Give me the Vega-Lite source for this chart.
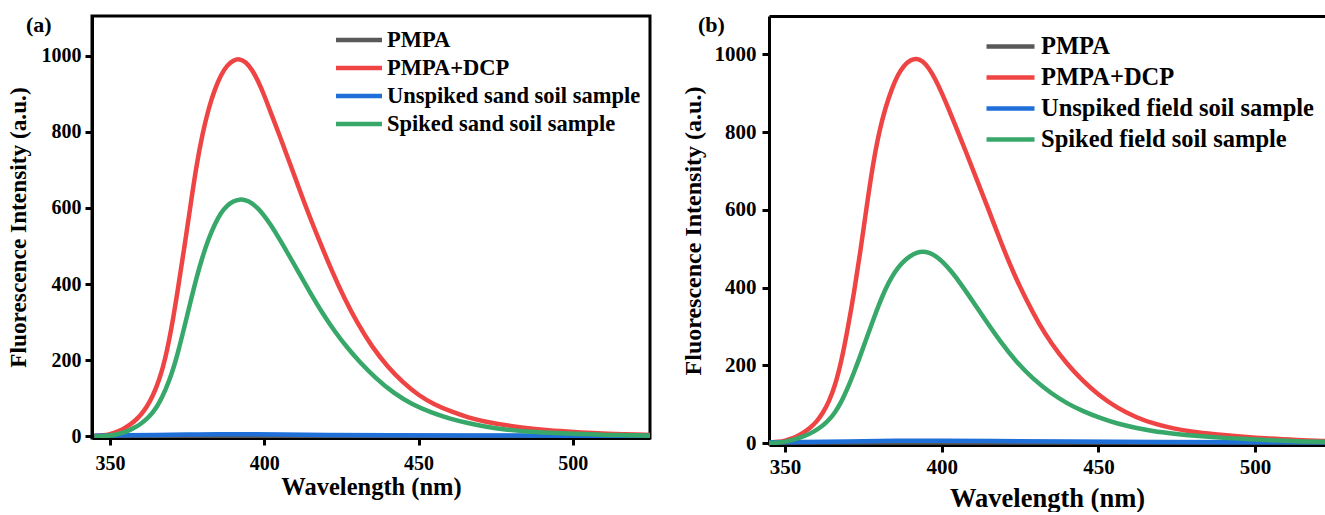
{
  "$schema": "https://vega.github.io/schema/vega-lite/v6.json",
  "padding": {"left": 4, "top": 12, "right": 0, "bottom": 0},
  "spacing": 29,
  "config": {
    "font": "Liberation Serif",
    "view": {"stroke": null},
    "axis": {"grid": false, "domainColor": "black", "domainWidth": 3, "tickColor": "black", "tickWidth": 3, "tickSize": 7, "labelColor": "black", "titleColor": "black", "labelFont": "Liberation Serif", "titleFont": "Liberation Serif", "labelFontWeight": "bold", "titleFontWeight": "bold", "format": "d"},
    "legend": {"symbolType": "M-2,0H2", "labelFont": "Liberation Serif", "labelFontWeight": "bold", "labelColor": "black", "labelLimit": 0, "padding": 0, "title": null}
  },
  "datasets": {
    "sand": [
      {"s": "PMPA", "wl": 345, "v": 1}, {"s": "PMPA", "wl": 380, "v": 2}, {"s": "PMPA", "wl": 400, "v": 2}, {"s": "PMPA", "wl": 450, "v": 1}, {"s": "PMPA", "wl": 525, "v": 1},
      {"s": "PMPA+DCP", "wl": 345, "v": 1}, {"s": "PMPA+DCP", "wl": 348, "v": 3}, {"s": "PMPA+DCP", "wl": 350, "v": 6}, {"s": "PMPA+DCP", "wl": 352, "v": 11}, {"s": "PMPA+DCP", "wl": 354, "v": 18}, {"s": "PMPA+DCP", "wl": 356, "v": 28}, {"s": "PMPA+DCP", "wl": 358, "v": 40}, {"s": "PMPA+DCP", "wl": 360, "v": 56}, {"s": "PMPA+DCP", "wl": 362, "v": 78}, {"s": "PMPA+DCP", "wl": 364, "v": 108}, {"s": "PMPA+DCP", "wl": 366, "v": 148}, {"s": "PMPA+DCP", "wl": 368, "v": 205}, {"s": "PMPA+DCP", "wl": 370, "v": 285}, {"s": "PMPA+DCP", "wl": 372, "v": 385}, {"s": "PMPA+DCP", "wl": 374, "v": 490}, {"s": "PMPA+DCP", "wl": 376, "v": 600}, {"s": "PMPA+DCP", "wl": 378, "v": 710}, {"s": "PMPA+DCP", "wl": 380, "v": 795}, {"s": "PMPA+DCP", "wl": 382, "v": 862}, {"s": "PMPA+DCP", "wl": 384, "v": 912}, {"s": "PMPA+DCP", "wl": 386, "v": 950}, {"s": "PMPA+DCP", "wl": 388, "v": 975}, {"s": "PMPA+DCP", "wl": 390, "v": 988}, {"s": "PMPA+DCP", "wl": 392, "v": 992}, {"s": "PMPA+DCP", "wl": 394, "v": 984}, {"s": "PMPA+DCP", "wl": 396, "v": 964}, {"s": "PMPA+DCP", "wl": 398, "v": 934}, {"s": "PMPA+DCP", "wl": 400, "v": 896}, {"s": "PMPA+DCP", "wl": 402, "v": 853}, {"s": "PMPA+DCP", "wl": 405, "v": 790}, {"s": "PMPA+DCP", "wl": 408, "v": 724}, {"s": "PMPA+DCP", "wl": 411, "v": 658}, {"s": "PMPA+DCP", "wl": 414, "v": 592}, {"s": "PMPA+DCP", "wl": 418, "v": 511}, {"s": "PMPA+DCP", "wl": 422, "v": 433}, {"s": "PMPA+DCP", "wl": 426, "v": 362}, {"s": "PMPA+DCP", "wl": 430, "v": 300}, {"s": "PMPA+DCP", "wl": 435, "v": 234}, {"s": "PMPA+DCP", "wl": 440, "v": 183}, {"s": "PMPA+DCP", "wl": 445, "v": 141}, {"s": "PMPA+DCP", "wl": 450, "v": 108}, {"s": "PMPA+DCP", "wl": 455, "v": 84}, {"s": "PMPA+DCP", "wl": 461, "v": 64}, {"s": "PMPA+DCP", "wl": 466, "v": 50}, {"s": "PMPA+DCP", "wl": 472, "v": 38}, {"s": "PMPA+DCP", "wl": 480, "v": 27}, {"s": "PMPA+DCP", "wl": 487, "v": 20}, {"s": "PMPA+DCP", "wl": 494, "v": 15}, {"s": "PMPA+DCP", "wl": 500, "v": 12}, {"s": "PMPA+DCP", "wl": 508, "v": 8}, {"s": "PMPA+DCP", "wl": 516, "v": 6}, {"s": "PMPA+DCP", "wl": 525, "v": 4},
      {"s": "Unspiked sand soil sample", "wl": 345, "v": 2}, {"s": "Unspiked sand soil sample", "wl": 355, "v": 3}, {"s": "Unspiked sand soil sample", "wl": 365, "v": 4}, {"s": "Unspiked sand soil sample", "wl": 375, "v": 5}, {"s": "Unspiked sand soil sample", "wl": 385, "v": 6}, {"s": "Unspiked sand soil sample", "wl": 395, "v": 6}, {"s": "Unspiked sand soil sample", "wl": 405, "v": 5}, {"s": "Unspiked sand soil sample", "wl": 420, "v": 4}, {"s": "Unspiked sand soil sample", "wl": 440, "v": 3}, {"s": "Unspiked sand soil sample", "wl": 470, "v": 3}, {"s": "Unspiked sand soil sample", "wl": 500, "v": 2}, {"s": "Unspiked sand soil sample", "wl": 525, "v": 2},
      {"s": "Spiked sand soil sample", "wl": 345, "v": 0}, {"s": "Spiked sand soil sample", "wl": 348, "v": 1}, {"s": "Spiked sand soil sample", "wl": 350, "v": 2}, {"s": "Spiked sand soil sample", "wl": 352, "v": 5}, {"s": "Spiked sand soil sample", "wl": 354, "v": 9}, {"s": "Spiked sand soil sample", "wl": 356, "v": 15}, {"s": "Spiked sand soil sample", "wl": 358, "v": 23}, {"s": "Spiked sand soil sample", "wl": 360, "v": 33}, {"s": "Spiked sand soil sample", "wl": 362, "v": 46}, {"s": "Spiked sand soil sample", "wl": 364, "v": 63}, {"s": "Spiked sand soil sample", "wl": 366, "v": 88}, {"s": "Spiked sand soil sample", "wl": 368, "v": 122}, {"s": "Spiked sand soil sample", "wl": 370, "v": 163}, {"s": "Spiked sand soil sample", "wl": 372, "v": 218}, {"s": "Spiked sand soil sample", "wl": 374, "v": 283}, {"s": "Spiked sand soil sample", "wl": 376, "v": 350}, {"s": "Spiked sand soil sample", "wl": 378, "v": 415}, {"s": "Spiked sand soil sample", "wl": 380, "v": 472}, {"s": "Spiked sand soil sample", "wl": 382, "v": 520}, {"s": "Spiked sand soil sample", "wl": 384, "v": 558}, {"s": "Spiked sand soil sample", "wl": 386, "v": 588}, {"s": "Spiked sand soil sample", "wl": 388, "v": 607}, {"s": "Spiked sand soil sample", "wl": 390, "v": 618}, {"s": "Spiked sand soil sample", "wl": 392, "v": 623}, {"s": "Spiked sand soil sample", "wl": 394, "v": 621}, {"s": "Spiked sand soil sample", "wl": 396, "v": 613}, {"s": "Spiked sand soil sample", "wl": 398, "v": 599}, {"s": "Spiked sand soil sample", "wl": 400, "v": 580}, {"s": "Spiked sand soil sample", "wl": 402, "v": 557}, {"s": "Spiked sand soil sample", "wl": 405, "v": 518}, {"s": "Spiked sand soil sample", "wl": 408, "v": 476}, {"s": "Spiked sand soil sample", "wl": 411, "v": 433}, {"s": "Spiked sand soil sample", "wl": 415, "v": 376}, {"s": "Spiked sand soil sample", "wl": 419, "v": 322}, {"s": "Spiked sand soil sample", "wl": 423, "v": 274}, {"s": "Spiked sand soil sample", "wl": 427, "v": 232}, {"s": "Spiked sand soil sample", "wl": 431, "v": 195}, {"s": "Spiked sand soil sample", "wl": 436, "v": 154}, {"s": "Spiked sand soil sample", "wl": 442, "v": 113}, {"s": "Spiked sand soil sample", "wl": 448, "v": 84}, {"s": "Spiked sand soil sample", "wl": 454, "v": 63}, {"s": "Spiked sand soil sample", "wl": 460, "v": 47}, {"s": "Spiked sand soil sample", "wl": 466, "v": 35}, {"s": "Spiked sand soil sample", "wl": 472, "v": 25}, {"s": "Spiked sand soil sample", "wl": 478, "v": 18}, {"s": "Spiked sand soil sample", "wl": 485, "v": 13}, {"s": "Spiked sand soil sample", "wl": 492, "v": 10}, {"s": "Spiked sand soil sample", "wl": 500, "v": 7}, {"s": "Spiked sand soil sample", "wl": 510, "v": 4}, {"s": "Spiked sand soil sample", "wl": 525, "v": 2}
    ],
    "field": [
      {"s": "PMPA", "wl": 345, "v": 1}, {"s": "PMPA", "wl": 400, "v": 2}, {"s": "PMPA", "wl": 523, "v": 1},
      {"s": "PMPA+DCP", "wl": 345, "v": 1}, {"s": "PMPA+DCP", "wl": 348, "v": 3}, {"s": "PMPA+DCP", "wl": 350, "v": 6}, {"s": "PMPA+DCP", "wl": 352, "v": 11}, {"s": "PMPA+DCP", "wl": 354, "v": 18}, {"s": "PMPA+DCP", "wl": 356, "v": 27}, {"s": "PMPA+DCP", "wl": 358, "v": 39}, {"s": "PMPA+DCP", "wl": 360, "v": 54}, {"s": "PMPA+DCP", "wl": 362, "v": 76}, {"s": "PMPA+DCP", "wl": 364, "v": 106}, {"s": "PMPA+DCP", "wl": 366, "v": 148}, {"s": "PMPA+DCP", "wl": 368, "v": 210}, {"s": "PMPA+DCP", "wl": 370, "v": 293}, {"s": "PMPA+DCP", "wl": 372, "v": 385}, {"s": "PMPA+DCP", "wl": 374, "v": 490}, {"s": "PMPA+DCP", "wl": 376, "v": 605}, {"s": "PMPA+DCP", "wl": 378, "v": 715}, {"s": "PMPA+DCP", "wl": 380, "v": 800}, {"s": "PMPA+DCP", "wl": 382, "v": 862}, {"s": "PMPA+DCP", "wl": 384, "v": 910}, {"s": "PMPA+DCP", "wl": 386, "v": 948}, {"s": "PMPA+DCP", "wl": 388, "v": 972}, {"s": "PMPA+DCP", "wl": 390, "v": 986}, {"s": "PMPA+DCP", "wl": 392, "v": 990}, {"s": "PMPA+DCP", "wl": 394, "v": 983}, {"s": "PMPA+DCP", "wl": 396, "v": 964}, {"s": "PMPA+DCP", "wl": 398, "v": 936}, {"s": "PMPA+DCP", "wl": 400, "v": 902}, {"s": "PMPA+DCP", "wl": 402, "v": 864}, {"s": "PMPA+DCP", "wl": 405, "v": 805}, {"s": "PMPA+DCP", "wl": 408, "v": 744}, {"s": "PMPA+DCP", "wl": 411, "v": 682}, {"s": "PMPA+DCP", "wl": 415, "v": 600}, {"s": "PMPA+DCP", "wl": 419, "v": 514}, {"s": "PMPA+DCP", "wl": 423, "v": 436}, {"s": "PMPA+DCP", "wl": 427, "v": 368}, {"s": "PMPA+DCP", "wl": 431, "v": 307}, {"s": "PMPA+DCP", "wl": 435, "v": 256}, {"s": "PMPA+DCP", "wl": 440, "v": 203}, {"s": "PMPA+DCP", "wl": 445, "v": 160}, {"s": "PMPA+DCP", "wl": 450, "v": 124}, {"s": "PMPA+DCP", "wl": 456, "v": 90}, {"s": "PMPA+DCP", "wl": 462, "v": 66}, {"s": "PMPA+DCP", "wl": 468, "v": 49}, {"s": "PMPA+DCP", "wl": 474, "v": 37}, {"s": "PMPA+DCP", "wl": 480, "v": 29}, {"s": "PMPA+DCP", "wl": 487, "v": 23}, {"s": "PMPA+DCP", "wl": 495, "v": 17}, {"s": "PMPA+DCP", "wl": 505, "v": 11}, {"s": "PMPA+DCP", "wl": 513, "v": 8}, {"s": "PMPA+DCP", "wl": 523, "v": 5},
      {"s": "Unspiked field soil sample", "wl": 345, "v": 2}, {"s": "Unspiked field soil sample", "wl": 355, "v": 3}, {"s": "Unspiked field soil sample", "wl": 370, "v": 4}, {"s": "Unspiked field soil sample", "wl": 385, "v": 6}, {"s": "Unspiked field soil sample", "wl": 400, "v": 6}, {"s": "Unspiked field soil sample", "wl": 415, "v": 5}, {"s": "Unspiked field soil sample", "wl": 440, "v": 4}, {"s": "Unspiked field soil sample", "wl": 470, "v": 3}, {"s": "Unspiked field soil sample", "wl": 500, "v": 2}, {"s": "Unspiked field soil sample", "wl": 523, "v": 2},
      {"s": "Spiked field soil sample", "wl": 345, "v": 0}, {"s": "Spiked field soil sample", "wl": 348, "v": 1}, {"s": "Spiked field soil sample", "wl": 350, "v": 3}, {"s": "Spiked field soil sample", "wl": 353, "v": 9}, {"s": "Spiked field soil sample", "wl": 356, "v": 17}, {"s": "Spiked field soil sample", "wl": 359, "v": 28}, {"s": "Spiked field soil sample", "wl": 362, "v": 44}, {"s": "Spiked field soil sample", "wl": 364, "v": 59}, {"s": "Spiked field soil sample", "wl": 366, "v": 79}, {"s": "Spiked field soil sample", "wl": 368, "v": 106}, {"s": "Spiked field soil sample", "wl": 370, "v": 141}, {"s": "Spiked field soil sample", "wl": 372, "v": 181}, {"s": "Spiked field soil sample", "wl": 374, "v": 224}, {"s": "Spiked field soil sample", "wl": 376, "v": 269}, {"s": "Spiked field soil sample", "wl": 378, "v": 314}, {"s": "Spiked field soil sample", "wl": 380, "v": 357}, {"s": "Spiked field soil sample", "wl": 382, "v": 396}, {"s": "Spiked field soil sample", "wl": 384, "v": 427}, {"s": "Spiked field soil sample", "wl": 386, "v": 451}, {"s": "Spiked field soil sample", "wl": 388, "v": 469}, {"s": "Spiked field soil sample", "wl": 390, "v": 482}, {"s": "Spiked field soil sample", "wl": 392, "v": 490}, {"s": "Spiked field soil sample", "wl": 394, "v": 493}, {"s": "Spiked field soil sample", "wl": 396, "v": 490}, {"s": "Spiked field soil sample", "wl": 398, "v": 482}, {"s": "Spiked field soil sample", "wl": 400, "v": 469}, {"s": "Spiked field soil sample", "wl": 403, "v": 443}, {"s": "Spiked field soil sample", "wl": 406, "v": 411}, {"s": "Spiked field soil sample", "wl": 410, "v": 364}, {"s": "Spiked field soil sample", "wl": 414, "v": 316}, {"s": "Spiked field soil sample", "wl": 419, "v": 258}, {"s": "Spiked field soil sample", "wl": 424, "v": 207}, {"s": "Spiked field soil sample", "wl": 429, "v": 166}, {"s": "Spiked field soil sample", "wl": 435, "v": 127}, {"s": "Spiked field soil sample", "wl": 440, "v": 102}, {"s": "Spiked field soil sample", "wl": 445, "v": 82}, {"s": "Spiked field soil sample", "wl": 451, "v": 63}, {"s": "Spiked field soil sample", "wl": 456, "v": 50}, {"s": "Spiked field soil sample", "wl": 462, "v": 39}, {"s": "Spiked field soil sample", "wl": 467, "v": 31}, {"s": "Spiked field soil sample", "wl": 474, "v": 24}, {"s": "Spiked field soil sample", "wl": 482, "v": 18}, {"s": "Spiked field soil sample", "wl": 490, "v": 13}, {"s": "Spiked field soil sample", "wl": 498, "v": 10}, {"s": "Spiked field soil sample", "wl": 508, "v": 6}, {"s": "Spiked field soil sample", "wl": 515, "v": 4}, {"s": "Spiked field soil sample", "wl": 523, "v": 3}
    ]
  },
  "resolve": {"scale": {"color": "independent", "x": "independent", "y": "independent"}},
  "hconcat": [
    {
      "title": {"text": "(a)", "anchor": "start", "frame": "bounds", "fontSize": 22, "font": "Liberation Serif", "fontWeight": "bold", "color": "black", "offset": 0, "dx": 20, "dy": 21},
      "width": 558,
      "height": 422,
      "view": {"stroke": "black", "strokeWidth": 3},
      "data": {"name": "sand"},
      "mark": {"type": "line", "strokeWidth": 4.5, "interpolate": "basis", "clip": true},
      "encoding": {
        "x": {"field": "wl", "type": "quantitative", "scale": {"domain": [344.2, 525], "nice": false, "zero": false},
              "axis": {"values": [350, 400, 450, 500], "title": "Wavelength (nm)", "labelFontSize": 20, "titleFontSize": 24.5, "labelPadding": 8, "titlePadding": 2}},
        "y": {"field": "v", "type": "quantitative", "scale": {"domain": [-4, 1104], "nice": false, "zero": false},
              "axis": {"values": [0, 200, 400, 600, 800, 1000], "title": "Fluorescence Intensity (a.u.)", "labelFontSize": 20, "titleFontSize": 23.3, "labelPadding": 4, "titlePadding": 11}},
        "color": {"field": "s", "type": "nominal",
                  "scale": {"domain": ["PMPA", "PMPA+DCP", "Unspiked sand soil sample", "Spiked sand soil sample"], "range": ["#595959", "#ef4444", "#1f6fd8", "#37a86a"]},
                  "legend": {"orient": "none", "legendX": 253, "legendY": 10, "labelFontSize": 22.5, "symbolSize": 529, "symbolStrokeWidth": 4.5, "labelOffset": 14, "rowPadding": 2}}
      }
    },
    {
      "title": {"text": "(b)", "anchor": "start", "frame": "bounds", "fontSize": 22, "font": "Liberation Serif", "fontWeight": "bold", "color": "black", "offset": 0, "dx": 17, "dy": 21},
      "width": 556,
      "height": 429,
      "data": {"name": "field"},
      "resolve": {"axis": {"x": "independent"}},
      "layer": [
        {
          "mark": {"type": "line", "strokeWidth": 4.5, "interpolate": "basis", "clip": true},
          "encoding": {
            "x": {"field": "wl", "type": "quantitative", "scale": {"domain": [344.9, 522.3], "nice": false, "zero": false},
                  "axis": {"values": [350, 400, 450, 500], "title": "Wavelength (nm)", "labelFontSize": 21, "titleFontSize": 26.5, "labelPadding": 4, "titlePadding": 8}},
            "y": {"field": "v", "type": "quantitative", "scale": {"domain": [-5, 1099], "nice": false, "zero": false},
                  "axis": {"values": [0, 200, 400, 600, 800, 1000], "title": "Fluorescence Intensity (a.u.)", "labelFontSize": 21, "titleFontSize": 24, "labelPadding": 6, "titlePadding": 9}},
            "color": {"field": "s", "type": "nominal",
                      "scale": {"domain": ["PMPA", "PMPA+DCP", "Unspiked field soil sample", "Spiked field soil sample"], "range": ["#595959", "#ef4444", "#1f6fd8", "#37a86a"]},
                      "legend": {"orient": "none", "legendX": 227, "legendY": 16, "labelFontSize": 24.5, "symbolSize": 576, "symbolStrokeWidth": 4.5, "labelOffset": 16, "rowPadding": 5}}
          }
        },
        {
          "mark": {"type": "rule", "strokeOpacity": 0},
          "encoding": {
            "x": {"datum": 400, "type": "quantitative",
                  "axis": {"orient": "top", "labels": false, "ticks": false, "title": null, "domainWidth": 3}}
          }
        }
      ]
    }
  ]
}
